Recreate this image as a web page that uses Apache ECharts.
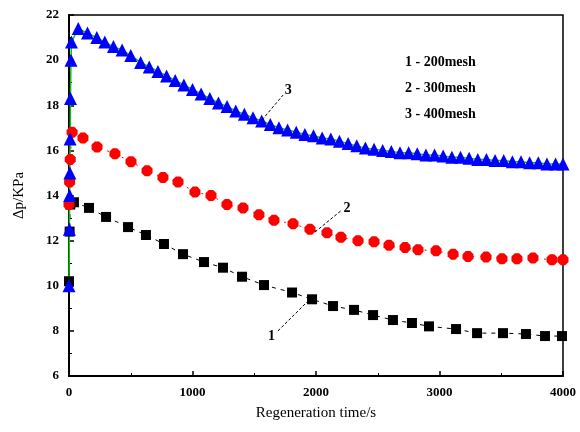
<!DOCTYPE html>
<html>
<head>
<meta charset="utf-8">
<script src="https://cdn.jsdelivr.net/npm/echarts@6/dist/echarts.min.js"></script>
<style>
  html, body { margin: 0; padding: 0; background: #fff; }
  #main { width: 580px; height: 432px; }
</style>
</head>
<body>
<div id="main"></div>
<script>
// 1 - 200mesh (black squares)
const t200 = [0, 5, 10, 40, 162, 300, 478, 623, 769, 923, 1093, 1247, 1401, 1579, 1806, 1968, 2138, 2308, 2462, 2623, 2777, 2915, 3134, 3304, 3514, 3700, 3854, 3992];
const p200 = [10.2, 12.4, 13.6, 13.7, 13.45, 13.05, 12.6, 12.25, 11.85, 11.4, 11.05, 10.8, 10.4, 10.03, 9.7, 9.4, 9.1, 8.93, 8.7, 8.48, 8.35, 8.2, 8.08, 7.9, 7.9, 7.86, 7.77, 7.77];

// 2 - 300mesh (red)
const t300 = [0, 5, 10, 25, 113, 227, 372, 502, 632, 761, 883, 1020, 1150, 1279, 1409, 1538, 1660, 1814, 1951, 2089, 2202, 2340, 2470, 2591, 2721, 2826, 2972, 3110, 3231, 3377, 3506, 3627, 3757, 3911, 4000];
const p300 = [13.6, 14.6, 15.6, 16.8, 16.55, 16.15, 15.85, 15.5, 15.1, 14.8, 14.6, 14.15, 14.0, 13.6, 13.45, 13.15, 12.9, 12.75, 12.5, 12.35, 12.15, 12.0, 11.95, 11.8, 11.7, 11.6, 11.55, 11.4, 11.3, 11.27, 11.2, 11.2, 11.23, 11.15, 11.15];

// 3 - 400mesh (blue triangles)
const t400 = [0, 3, 5, 7, 9, 12, 16, 20, 75, 150, 225, 290, 360, 430, 500, 580, 650, 720, 790, 860, 930, 1000, 1070, 1140, 1210, 1280, 1350, 1420, 1490, 1560, 1630, 1700, 1770, 1840, 1910, 1980, 2050, 2120, 2190, 2260, 2330, 2400, 2470, 2540, 2610, 2680, 2750, 2820, 2890, 2960, 3030, 3100, 3170, 3240, 3310, 3380, 3450, 3520, 3590, 3660, 3730, 3800, 3870, 3940, 4000];
const p400 = [10.0, 12.5, 14.0, 15.0, 16.5, 18.3, 20.0, 20.8, 21.4, 21.2, 21.0, 20.8, 20.6, 20.45, 20.2, 19.9, 19.7, 19.5, 19.3, 19.1, 18.9, 18.7, 18.5, 18.3, 18.1, 17.95, 17.75, 17.6, 17.45, 17.3, 17.15, 17.0, 16.9, 16.8, 16.7, 16.65, 16.55, 16.5, 16.4, 16.3, 16.2, 16.1, 16.05, 16.0, 15.95, 15.9, 15.9, 15.85, 15.8, 15.8, 15.75, 15.7, 15.7, 15.65, 15.6, 15.6, 15.55, 15.55, 15.5, 15.5, 15.45, 15.45, 15.4, 15.4, 15.4];

const legendLines = ["1 - 200mesh", "2 - 300mesh", "3 - 400mesh"];

// leader lines for curve numbers
const leaders = [
  { name: "1", from: [1968, 9.5], to: [1692, 8.0], at: [1640, 7.75] },
  { name: "2", from: [1992, 12.38], to: [2210, 13.36], at: [2250, 13.45] },
  { name: "3", from: [1563, 17.35], to: [1733, 18.45], at: [1775, 18.65] }
];

const serif = "Liberation Serif";
const zip = (a, b) => a.map((x, i) => [x, b[i]]);

const myChart = echarts.init(document.getElementById("main"));

function leaderMarks(k) {
  const l = leaders[k];
  return {
    markLine: {
      silent: true,
      symbol: "none",
      label: { show: false },
      lineStyle: { color: "#000", width: 1, type: [3, 2] },
      data: [[{ coord: l.from }, { coord: l.to }]]
    },
    markPoint: {
      silent: true,
      symbol: "rect",
      symbolSize: 0,
      label: {
        show: true, formatter: l.name, color: "#000",
        fontFamily: serif, fontSize: 14, fontWeight: "bold"
      },
      data: [{ coord: l.at }]
    }
  };
}

const option = {
  animation: false,
  grid: {
    left: 69, top: 15, right: 17, bottom: 56,
    show: true, borderColor: "#000", borderWidth: 1.5, backgroundColor: "transparent"
  },
  xAxis: {
    type: "value",
    min: 0, max: 4000, interval: 1000,
    name: "Regeneration time/s",
    nameLocation: "middle",
    nameGap: 30,
    nameTextStyle: { fontFamily: serif, fontSize: 15, color: "#000" },
    axisLine: { lineStyle: { color: "#000", width: 2 } },
    axisTick: { inside: true, length: 5, lineStyle: { color: "#000", width: 1.5 } },
    minorTick: { show: true, splitNumber: 2, length: 3, lineStyle: { color: "#000" } },
    axisLabel: {
      fontFamily: serif, fontSize: 13, fontWeight: "bold", color: "#000", margin: 10,
      formatter: v => String(v)
    },
    splitLine: { show: false }
  },
  yAxis: {
    type: "value",
    min: 6, max: 22, interval: 2,
    name: "Δp/KPa",
    nameLocation: "middle",
    nameGap: 42,
    nameTextStyle: { fontFamily: serif, fontSize: 15, color: "#000" },
    axisLine: { lineStyle: { color: "#000", width: 2 } },
    axisTick: { inside: true, length: 5, lineStyle: { color: "#000", width: 1.5 } },
    minorTick: { show: true, splitNumber: 2, length: 3, lineStyle: { color: "#000" } },
    axisLabel: { fontFamily: serif, fontSize: 13, fontWeight: "bold", color: "#000", margin: 10 },
    splitLine: { show: false }
  },
  graphic: legendLines.map((s, i) => ({
    type: "text",
    left: 405,
    top: 55 + i * 26,
    style: {
      text: s, fill: "#000",
      font: "bold 14px 'Liberation Serif'"
    }
  })),
  series: [
    Object.assign({
      name: legendLines[0],
      type: "line",
      data: zip(t200, p200),
      symbol: "rect",
      symbolSize: 10,
      itemStyle: { color: "#000" },
      lineStyle: { color: "#000", width: 1, type: [4, 5] }
    }, leaderMarks(0)),
    Object.assign({
      name: legendLines[1],
      type: "line",
      data: zip(t300, p300),
      symbol: "path://M3,0 L7,0 L10,3 L10,7 L7,10 L3,10 L0,7 L0,3 Z",
      symbolSize: 11,
      itemStyle: { color: "#ff0000" },
      lineStyle: { color: "#ff0000", width: 1, type: [2, 6] }
    }, leaderMarks(1)),
    Object.assign({
      name: legendLines[2],
      type: "line",
      data: zip(t400, p400),
      symbol: "triangle",
      symbolSize: 13,
      itemStyle: { color: "#0000ff" },
      lineStyle: { color: "#00cc00", width: 1.5 }
    }, leaderMarks(2))
  ]
};

myChart.setOption(option);
</script>
</body>
</html>
